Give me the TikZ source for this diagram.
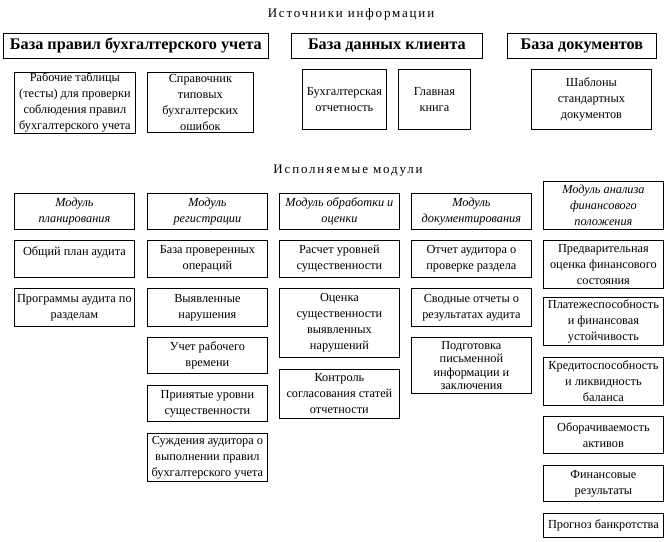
\documentclass[tikz,border=0pt]{standalone}
\usepackage{fontspec}
\setmainfont{Liberation Serif}
\usetikzlibrary{positioning}

\begin{document}
\begin{tikzpicture}[x=1pt,y=-1pt,
    box/.style={draw, line width=0.8pt, inner xsep=1pt, inner ysep=0pt, align=center, anchor=north west, font=\fontsize{12.3}{16}\selectfont},
    headbox/.style={box, font=\fontsize{16.2}{16}\selectfont\bfseries},
    modbox/.style={box, font=\fontsize{12.3}{16}\selectfont\itshape},
    tight/.style={font=\fontsize{12.3}{13.5}\selectfont},
    title/.style={font=\fontsize{13}{16}\selectfont\addfontfeature{LetterSpace=14}}]
    \useasboundingbox (0,0) rectangle (666,541);

    % Sources
    \node[title] (srctitle) at (351,14) {Источники информации};
    \node[headbox, minimum width=265, minimum height=25] (rules) at (3,33) {База правил бухгалтерского учета};
    \node[headbox, minimum width=191, minimum height=25] (client) at (291,33) {База данных клиента};
    \node[headbox, minimum width=149, minimum height=25] (docs) at (507,33) {База документов};

    \node[box, minimum width=121, minimum height=61] (worktab) at (14,72) {Рабочие таблицы\\ (тесты) для проверки\\ соблюдения правил\\ бухгалтерского учета};
    \node[box, minimum width=106, minimum height=60] (errref) at (147,72) {Справочник\\ типовых\\ бухгалтерских\\ ошибок};
    \node[box, minimum width=84, minimum height=60] (report) at (302,69) {Бухгалтерская\\ отчетность};
    \node[box, minimum width=72, minimum height=60] (ledger) at (398,69) {Главная\\ книга};
    \node[box, minimum width=120, minimum height=60] (templ) at (531,69) {Шаблоны\\ стандартных\\ документов};

    % Modules
    \node[title] (modtitle) at (348,171) {Исполняемые модули};
    \foreach \n/\x/\top/\h/\txt in {plan/14/193/36/{Модуль\\ планирования}, reg/147/193/36/{Модуль\\ регистрации},
        proc/279/193/36/{Модуль обработки и\\ оценки}, doc/411/193/36/{Модуль\\ документирования},
        fin/543/181/48/{Модуль анализа\\ финансового\\ положения}} {
        \node[modbox, minimum width=120, minimum height=\h] (\n-0) at (\x,\top) {\txt};
    }

    % Planning
    \foreach \i/\top/\h/\txt in {1/240/37/{Общий план аудита\\ \mbox{}}, 2/288/38/{Программы аудита по\\ разделам}} {
        \node[box, minimum width=120, minimum height=\h] (plan-\i) at (14,\top) {\txt};
    }

    % Registration
    \foreach \i/\top/\h/\txt in {1/240/37/{База проверенных\\ операций}, 2/288/38/{Выявленные\\ нарушения},
        3/337/36/{Учет рабочего\\ времени}, 4/385/36/{Принятые уровни\\ существенности},
        5/433/48/{Суждения аудитора о\\ выполнении правил\\ бухгалтерского учета}} {
        \node[box, minimum width=120, minimum height=\h] (reg-\i) at (147,\top) {\txt};
    }

    % Processing
    \foreach \i/\top/\h/\txt in {1/240/37/{Расчет уровней\\ существенности}, 2/288/69/{Оценка\\ существенности\\ выявленных\\ нарушений},
        3/369/49/{Контроль\\ согласования статей\\ отчетности}} {
        \node[box, minimum width=120, minimum height=\h] (proc-\i) at (279,\top) {\txt};
    }

    % Documenting
    \foreach \i/\top/\h/\txt in {1/240/37/{Отчет аудитора о\\ проверке раздела}, 2/288/38/{Сводные отчеты о\\ результатах аудита}} {
        \node[box, minimum width=120, minimum height=\h] (doc-\i) at (411,\top) {\txt};
    }
    \node[box, tight, minimum width=120, minimum height=56] (doc-3) at (411,337) {Подготовка\\ письменной\\ информации и\\ заключения};

    % Financial analysis
    \foreach \i/\top/\h/\txt in {1/240/48/{Предварительная\\ оценка финансового\\ состояния},
        2/297/48/{Платежеспособность\\ и финансовая\\ устойчивость}, 3/357/48/{Кредитоспособность\\ и ликвидность\\ баланса},
        4/416/37/{Оборачиваемость\\ активов}, 5/465/36/{Финансовые\\ результаты}, 6/513/24/{Прогноз банкротства}} {
        \node[box, minimum width=120, minimum height=\h] (fin-\i) at (543,\top) {\txt};
    }

\end{tikzpicture}
\end{document}
